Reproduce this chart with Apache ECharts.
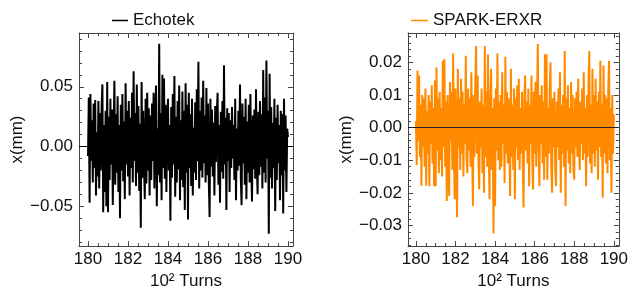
<!DOCTYPE html>
<html>
<head>
<meta charset="utf-8">
<script src="https://cdn.jsdelivr.net/npm/echarts@6/dist/echarts.min.js"></script>
<style>
  html, body { margin: 0; padding: 0; background: #fff; }
  #main { width: 631px; height: 295px; }
</style>
</head>
<body>
<div id="main"></div>
<script>
// turns (in units of 10^2), one sample every 0.04
var turnStart = 180;
var turnStep = 0.04;

// Echotek x(mm)
var echotek = [
  -0.008, 0.041, -0.047, 0.044, -0.012, 0.022, -0.030, 0.036, -0.018, 0.039,
  -0.041, 0.012, -0.025, 0.038, -0.035, 0.028, -0.020, 0.033, 0.052, -0.055,
  0.018, -0.038, 0.030, -0.050, 0.054,
  -0.055, 0.025, -0.028, 0.040, -0.015, 0.031, -0.049, 0.010, 0.055, -0.032,
  0.027, -0.022, 0.042, -0.038, 0.018, -0.060, 0.035, -0.020, 0.044, -0.029,
  0.021, -0.044, 0.053, -0.015, 0.030,
  -0.025, 0.038, -0.041, 0.024, -0.018, 0.045, -0.030, 0.063, -0.012, 0.028,
  -0.033, 0.052, -0.022, 0.034, -0.037, 0.019, -0.068, 0.054, -0.026, 0.030,
  -0.015, -0.044, 0.040, -0.031, 0.045,
  -0.020, 0.032, -0.041, 0.026, -0.028, 0.036, -0.012, 0.045, -0.035, 0.020,
  0.051, -0.050, 0.015, -0.024, 0.086, -0.030, 0.028, -0.045, 0.060, -0.018,
  0.057, -0.027, 0.035, -0.038, 0.022,
  0.040, -0.020, 0.018, -0.062, 0.033, -0.026, 0.044, -0.015, 0.059, -0.042,
  0.025, -0.030, 0.038, -0.019, 0.051, -0.045, 0.022, -0.028, 0.046, -0.034,
  0.030, -0.053, 0.053, -0.022, 0.035,
  -0.061, 0.045, -0.018, 0.027, -0.033, 0.040, -0.041, 0.016, -0.022, 0.037,
  -0.028, 0.048, -0.012, 0.071, -0.035, 0.030, -0.020, 0.041, -0.026, 0.055,
  -0.014, 0.026, -0.030, 0.049, -0.024,
  0.036, -0.029, -0.059, 0.040, -0.017, 0.031, -0.025, 0.020, -0.041, 0.034,
  -0.013, 0.027, 0.045, -0.032, 0.018, -0.047, 0.029, -0.021, 0.038, -0.027,
  0.068, -0.015, 0.024, -0.053, 0.032,
  -0.012, 0.028, -0.038, 0.022, -0.018, 0.033, -0.010, 0.018, -0.028, 0.040,
  -0.045, 0.015, -0.020, 0.030, -0.016, 0.052, -0.026, -0.049, 0.036, -0.014,
  0.025, -0.032, 0.040, -0.044, 0.021,
  -0.022, 0.035, -0.030, 0.044, -0.015, -0.046, 0.026, -0.019, 0.031, -0.027,
  0.048, -0.012, -0.040, 0.029, -0.024, 0.038, -0.017, 0.027, -0.035, 0.064,
  -0.022, 0.041, -0.030, 0.072, -0.010,
  0.030, -0.073, 0.061, -0.026, 0.033, -0.035, 0.020, -0.018, 0.040, -0.054,
  0.024, -0.028, 0.035, -0.014, 0.018, -0.045, 0.030, -0.024, 0.027, -0.056,
  0.040, -0.020, 0.026, -0.038, 0.015,
  0.008
];

// SPARK-ERXR x(mm)
var spark = [
  0.002, -0.0115, 0.0175, -0.004, 0.016, -0.009, 0.007, -0.0178, 0.010, -0.006,
  0.009, -0.012, 0.012, -0.0178, 0.005, -0.008, 0.010, -0.018, 0.008, -0.005,
  0.013, -0.011, 0.006, -0.018, 0.0145,
  -0.018, 0.0185, -0.007, 0.009, -0.014, 0.011, -0.010, 0.006, -0.015, 0.0205,
  -0.006, 0.021, -0.012, 0.008, -0.0225, 0.010, -0.009, -0.021, 0.014, -0.004,
  0.011, -0.013, 0.0227, -0.008, -0.022,
  0.012, -0.010, -0.0275, 0.018, -0.006, 0.009, -0.013, 0.015, -0.008, 0.011,
  -0.015, 0.007, -0.005, 0.022, -0.010, -0.014, 0.012, -0.007, 0.009, -0.012,
  0.017, -0.006, -0.024, 0.010, -0.009,
  0.013, 0.025, -0.008, 0.016, -0.011, -0.019, 0.008, -0.006, 0.012, -0.014,
  0.007, -0.020, 0.025, -0.009, 0.011, -0.012, 0.0225, -0.007, -0.022, 0.010,
  0.018, -0.013, 0.006, -0.0325, 0.009,
  -0.024, 0.012, -0.007, 0.0227, -0.010, 0.008, -0.013, 0.010, -0.012, 0.017,
  -0.005, 0.007, -0.017, 0.0217, -0.008, 0.011, -0.011, 0.009, -0.006, -0.021,
  0.018, -0.009, 0.007, -0.013, 0.012,
  -0.022, 0.009, -0.006, 0.013, -0.010, 0.015, -0.013, 0.006, -0.008, 0.011,
  -0.012, -0.0245, 0.010, 0.016, -0.007, 0.008, -0.011, 0.012, -0.018, 0.007,
  -0.005, 0.016, -0.010, -0.019, 0.011,
  -0.008, 0.014, -0.012, 0.009, 0.0256, -0.007, -0.018, 0.010, -0.005, 0.013,
  -0.011, 0.008, -0.016, 0.0225, -0.009, 0.0225, -0.016, 0.006, -0.008, 0.012,
  0.020, -0.012, -0.020, 0.009, -0.006,
  0.011, -0.013, -0.018, 0.008, -0.006, 0.012, -0.010, 0.017, -0.020, 0.007,
  -0.008, 0.010, -0.012, 0.0235, -0.024, 0.009, -0.007, 0.013, -0.011, 0.006,
  -0.014, 0.014, -0.008, 0.010, -0.013,
  -0.016, 0.009, -0.006, 0.011, -0.009, 0.015, -0.007, -0.013, 0.008, -0.005,
  0.012, -0.010, 0.017, -0.008, 0.006, -0.018, 0.010, -0.009, 0.013, 0.0235,
  -0.011, 0.007, -0.014, 0.018, -0.008,
  0.010, -0.012, 0.015, -0.007, 0.008, -0.016, 0.011, -0.006, 0.0205, -0.009,
  0.007, -0.0215, 0.019, -0.008, 0.010, -0.011, 0.009, -0.014, 0.012, 0.0205,
  -0.010, 0.006, -0.020, 0.010, -0.008,
  0.004
];

var xTicks = [180, 182, 184, 186, 188, 190];
var leftYTicks = [-0.05, 0, 0.05];
var rightYTicks = [-0.03, -0.02, -0.01, 0, 0.01, 0.02];

var font = 'Liberation Sans';
var fontSize = 17;
var frameColor = '#444';

function minorTicks(from, to, step, majors) {
    var out = [];
    for (var v = from; v <= to + 1e-9; v += step) {
        var r = Math.round(v * 10000) / 10000;
        var isMajor = majors.some(function (m) { return Math.abs(m - r) < 1e-7; });
        if (!isMajor) out.push(r);
    }
    return out;
}

function fmtY(v) {
    var s = Math.abs(v).toFixed(2);
    return v < -1e-9 ? '\u2212' + s : s;
}

// four axes per side pair: labelled main, opposite major, minor on both sides
function frameAxes(gi, isX, min, max, majors, minors, name, nameGap) {
    var sides = isX ? ['bottom', 'top'] : ['left', 'right'];
    var list = [];
    [
        { pos: sides[0], ticks: majors, len: 5, label: true, line: true },
        { pos: sides[1], ticks: majors, len: 5, label: false, line: true },
        { pos: sides[0], ticks: minors, len: 3, label: false, line: false },
        { pos: sides[1], ticks: minors, len: 3, label: false, line: false }
    ].forEach(function (a) {
        list.push({
            type: 'value',
            gridIndex: gi,
            position: a.pos,
            min: min,
            max: max,
            name: a.label ? name : '',
            nameLocation: 'middle',
            nameGap: nameGap,
            nameRotate: isX ? 0 : 90,
            nameTextStyle: { fontSize: fontSize, color: '#111', fontFamily: font },
            axisLine: { show: a.line, onZero: false, lineStyle: { color: frameColor, width: 1 } },
            axisTick: { show: true, inside: true, length: a.len, customValues: a.ticks,
                        lineStyle: { color: frameColor, width: 1 } },
            axisLabel: {
                show: a.label,
                customValues: majors,
                margin: isX ? 5 : 6,
                fontSize: fontSize,
                color: '#111',
                fontFamily: font,
                formatter: isX ? function (v) { return String(Math.round(v)); } : fmtY
            },
            splitLine: { show: false },
            minorTick: { show: false }
        });
    });
    return list;
}

var xMinor = minorTicks(179.5, 190.5, 0.5, xTicks);
var leftYMinor = minorTicks(-0.08, 0.09, 0.01, leftYTicks);
var rightYMinor = minorTicks(-0.036, 0.028, 0.002, rightYTicks);

var xAxes = frameAxes(0, true, 179.55, 190.25, xTicks, xMinor, '10\u00b2 Turns', 23)
    .concat(frameAxes(1, true, 179.6, 190.25, xTicks, xMinor, '10\u00b2 Turns', 23));
var yAxes = frameAxes(0, false, -0.0833, 0.095, leftYTicks, leftYMinor, 'x(mm)', 50)
    .concat(frameAxes(1, false, -0.0363, 0.029, rightYTicks, rightYMinor, 'x(mm)', 50));

function pairs(vals) {
    return vals.map(function (v, i) { return [turnStart + i * turnStep, v]; });
}

function zeroLine(color) {
    return {
        silent: true,
        symbol: 'none',
        label: { show: false },
        lineStyle: { color: color, width: 1.2, type: 'solid' },
        data: [{ yAxis: 0 }]
    };
}

var myChart = echarts.init(document.getElementById('main'));
var option = {
    animation: false,
    backgroundColor: '#fff',
    grid: [
        { left: 79, top: 33, width: 214, height: 214 },
        { left: 408, top: 33, width: 213, height: 213 }
    ],
    legend: [
        { data: ['Echotek'], left: 107, top: 7, icon: 'rect', itemWidth: 16, itemHeight: 1.5,
          textStyle: { fontSize: fontSize, color: '#111', fontFamily: font } },
        { data: ['SPARK-ERXR'], left: 406, top: 7, icon: 'rect', itemWidth: 17, itemHeight: 1.5,
          textStyle: { fontSize: fontSize, color: '#111', fontFamily: font } }
    ],
    xAxis: xAxes,
    yAxis: yAxes,
    series: [
        {
            name: 'Echotek', type: 'line', xAxisIndex: 0, yAxisIndex: 0,
            data: pairs(echotek), showSymbol: false, symbol: 'none',
            color: '#000', lineStyle: { color: '#000', width: 2 },
            markLine: zeroLine('#000')
        },
        {
            name: 'SPARK-ERXR', type: 'line', xAxisIndex: 4, yAxisIndex: 4,
            data: pairs(spark), showSymbol: false, symbol: 'none',
            color: '#ff8a00', lineStyle: { color: '#ff8a00', width: 2 },
            markLine: zeroLine('#222')
        }
    ]
};
myChart.setOption(option);
</script>
</body>
</html>
